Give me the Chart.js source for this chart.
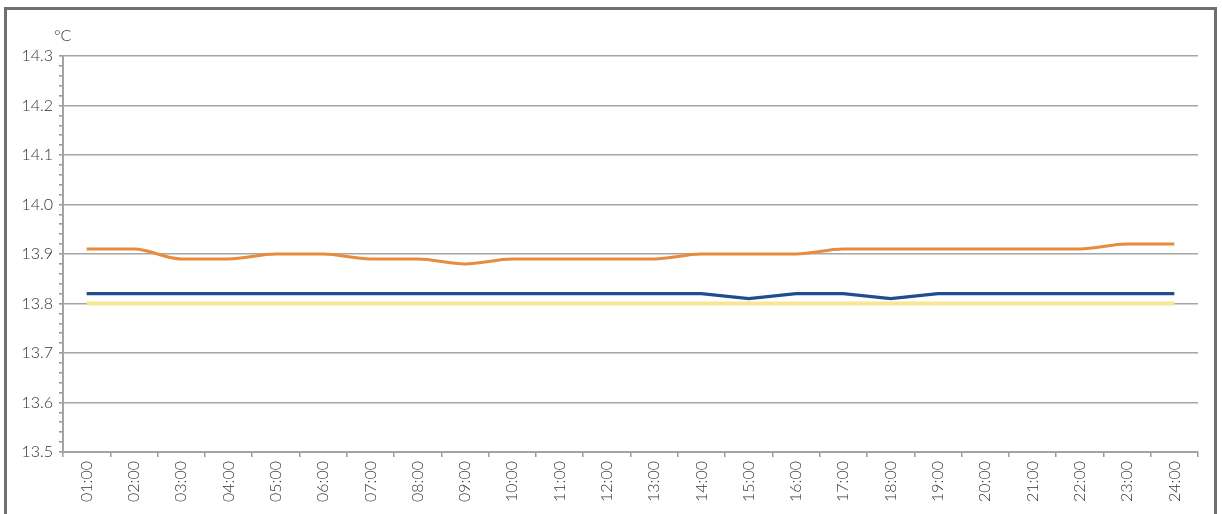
<!DOCTYPE html>
<html>
<head>
<meta charset="utf-8">
<script src="https://cdn.jsdelivr.net/npm/chart.js@4/dist/chart.umd.min.js"></script>
<style>
  html, body { margin: 0; padding: 0; background: #ffffff; }
  #wrap { position: relative; width: 1222px; height: 514px; overflow: hidden; }
  #frame { position: absolute; left: 4px; top: 7px; width: 1213px; height: 520px;
           border: 3px solid #6f6f6f; box-sizing: border-box; pointer-events: none; }
  canvas { position: absolute; left: 0; top: 0; }
</style>
</head>
<body>
<div id="wrap">
  <canvas id="chart" width="1222" height="514"></canvas>
  <div id="frame"></div>
</div>
<script>
// Hourly readings, °C
const hours = ['01:00','02:00','03:00','04:00','05:00','06:00','07:00','08:00','09:00','10:00','11:00','12:00',
               '13:00','14:00','15:00','16:00','17:00','18:00','19:00','20:00','21:00','22:00','23:00','24:00'];
const orangeSeries = [13.91,13.91,13.89,13.89,13.90,13.90,13.89,13.89,13.88,13.89,13.89,13.89,
                      13.89,13.90,13.90,13.90,13.91,13.91,13.91,13.91,13.91,13.91,13.92,13.92];
const blueSeries   = [13.82,13.82,13.82,13.82,13.82,13.82,13.82,13.82,13.82,13.82,13.82,13.82,
                      13.82,13.82,13.81,13.82,13.82,13.81,13.82,13.82,13.82,13.82,13.82,13.82];
const yellowSeries = [13.80,13.80,13.80,13.80,13.80,13.80,13.80,13.80,13.80,13.80,13.80,13.80,
                      13.80,13.80,13.80,13.80,13.80,13.80,13.80,13.80,13.80,13.80,13.80,13.80];
const yMin = 13.5, yMax = 14.3;
const unitLabel = '°C';

const FONT = 'Lato, "Open Sans", sans-serif';

const isMajor = v => Math.abs(Math.round(v * 10) - v * 10) < 1e-6;

const unitPlugin = {
  id: 'unitLabel',
  afterDraw(chart) {
    const { ctx, chartArea } = chart;
    ctx.save();
    ctx.font = '300 16px ' + FONT;
    ctx.fillStyle = '#333';
    ctx.textAlign = 'left';
    ctx.textBaseline = 'alphabetic';
    ctx.fillText(unitLabel, chartArea.left - 9, chartArea.top - 15);
    ctx.restore();
  }
};

new Chart(document.getElementById('chart'), {
  type: 'line',
  data: {
    labels: hours,
    datasets: [
      { label: 'yellow', data: yellowSeries, borderColor: '#f7e692', borderWidth: 4,
        pointRadius: 0, tension: 0 },
      { label: 'blue', data: blueSeries, borderColor: '#1f4e8d', borderWidth: 3.2,
        pointRadius: 0, tension: 0 },
      { label: 'orange', data: orangeSeries, borderColor: '#e98a3c', borderWidth: 3,
        pointRadius: 0, tension: 0.35, cubicInterpolationMode: 'monotone' }
    ]
  },
  options: {
    responsive: false,
    animation: false,
    layout: { padding: { top: 56, right: 24, bottom: 0, left: 0 } },
    plugins: { legend: { display: false }, tooltip: { enabled: false } },
    scales: {
      x: {
        offset: true,
        grid: { offset: true, drawOnChartArea: false, drawTicks: true, tickLength: 5,
                tickColor: '#9a9a9a', lineWidth: 1.5 },
        border: { color: '#a3a3a3', width: 2 },
        ticks: { minRotation: 90, maxRotation: 90, autoSkip: false, padding: 4,
                 color: '#333', font: { family: FONT, size: 16, weight: '300' } },
        afterFit(scale) { scale.height = 62; }
      },
      y: {
        min: yMin, max: yMax,
        ticks: {
          stepSize: 0.02, autoSkip: false, padding: 6,
          color: '#333', font: { family: FONT, size: 16, weight: '300' },
          callback(v) { return isMajor(v) ? v.toFixed(1) : ''; }
        },
        grid: {
          color: ctx => (ctx.tick && isMajor(ctx.tick.value) && ctx.tick.value > yMin + 1e-6) ? '#a6a6a6' : 'rgba(0,0,0,0)',
          lineWidth: 1.6,
          drawTicks: true, tickLength: 4,
          tickColor: '#9a9a9a'
        },
        border: { color: '#a3a3a3', width: 2 },
        afterFit(scale) { scale.width = 63; }
      }
    }
  },
  plugins: [unitPlugin]
});
</script>
</body>
</html>
